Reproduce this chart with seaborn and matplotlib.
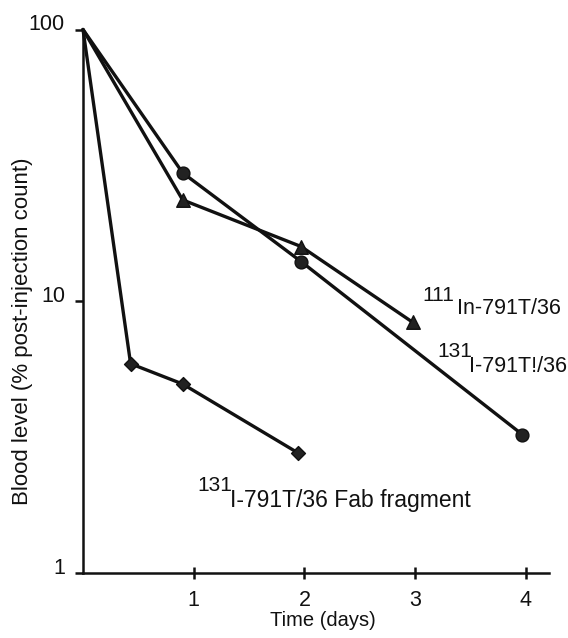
import matplotlib
matplotlib.use("Agg")
import matplotlib.pyplot as plt
import matplotlib.transforms as mtransforms
from matplotlib.ticker import FixedLocator, NullLocator, FixedFormatter
import seaborn as sns
import pandas as pd

# ---- data ----
days_131 = [0, 0.90, 1.97, 3.97]
level_131 = [100, 29.7, 14.0, 3.23]

days_111 = [0, 0.90, 1.97, 2.98]
level_111 = [100, 23.6, 15.9, 8.36]

days_fab = [0, 0.43, 0.90, 1.94]
level_fab = [100, 5.89, 4.96, 2.77]

x_ticks = [1, 2, 3, 4]
y_ticks = [1, 10, 100]
y_tick_labels = ["1", "10", "100"]

sns.set_theme(style="white")
plt.rcParams["font.family"] = ["Liberation Sans", "DejaVu Sans"]

INK = "#111111"

fig = plt.figure(figsize=(5.68, 6.38), dpi=100)
ax = fig.add_axes([83 / 568, 1 - 573 / 638, 466 / 568, (573 - 29.5) / 638])

series = [
    (days_131, level_131, "o", 85),
    (days_111, level_111, "^", 95),
    (days_fab, level_fab, "D", 50),
]

for d, v, m, s in series:
    df = pd.DataFrame({"day": d, "level": v})
    sns.lineplot(data=df, x="day", y="level", ax=ax, color=INK, lw=2.4,
                 sort=False, estimator=None, clip_on=False)
    sns.scatterplot(data=df.iloc[1:], x="day", y="level", ax=ax, marker=m,
                    s=s, color="#222222", edgecolor=INK, linewidth=1.0,
                    clip_on=False, zorder=5)

ax.set_yscale("log")
ax.set_ylim(1, 100)
ax.set_xlim(0, 4.21)

ax.xaxis.set_major_locator(FixedLocator(x_ticks))
ax.xaxis.set_minor_locator(NullLocator())
ax.yaxis.set_major_locator(FixedLocator(y_ticks))
ax.yaxis.set_major_formatter(FixedFormatter(y_tick_labels))
ax.yaxis.set_minor_locator(NullLocator())

for sp in ["top", "right"]:
    ax.spines[sp].set_visible(False)
for sp in ["left", "bottom"]:
    ax.spines[sp].set_linewidth(1.8)
    ax.spines[sp].set_color(INK)

ax.tick_params(axis="x", direction="inout", length=8, width=1.8, color=INK,
               labelsize=15.5, pad=8, labelcolor=INK)
ax.tick_params(axis="y", direction="out", length=6, width=1.8, color=INK,
               labelsize=15.5, pad=7, labelcolor=INK)
ax.tick_params(which="both", bottom=True, left=True)

offset = mtransforms.ScaledTranslation(0, 7 / 100, fig.dpi_scale_trans)
for lbl in ax.get_yticklabels():
    lbl.set_transform(lbl.get_transform() + offset)

ax.set_xlabel("Time (days)", fontsize=14.5, color=INK)
ax.set_ylabel("Blood level (% post-injection count)", fontsize=16, color=INK)
ax.xaxis.set_label_coords(0.515, -0.07)
ax.yaxis.set_label_coords(-0.107, 0.445)
ax.xaxis.label.set_va("top")

tfs = 15.5
sfs = 15
# 111In label
ax.text(3.07, 10.04, "111", fontsize=sfs, color=INK, ha="left", va="baseline")
ax.text(3.38, 9.0, "In-791T/36", fontsize=tfs, color=INK, ha="left", va="baseline")
# 131I label
ax.text(3.20, 6.25, "131", fontsize=sfs, color=INK, ha="left", va="baseline")
ax.text(3.49, 5.51, "I-791T!/36", fontsize=tfs, color=INK, ha="left", va="baseline")
# Fab fragment label
ax.text(1.03, 2.0, "131", fontsize=sfs, color=INK, ha="left", va="baseline")
ax.text(1.33, 1.75, "I-791T/36 Fab fragment", fontsize=16.5, color=INK, ha="left", va="baseline")

fig.savefig("out.png", dpi=100, facecolor="white")
